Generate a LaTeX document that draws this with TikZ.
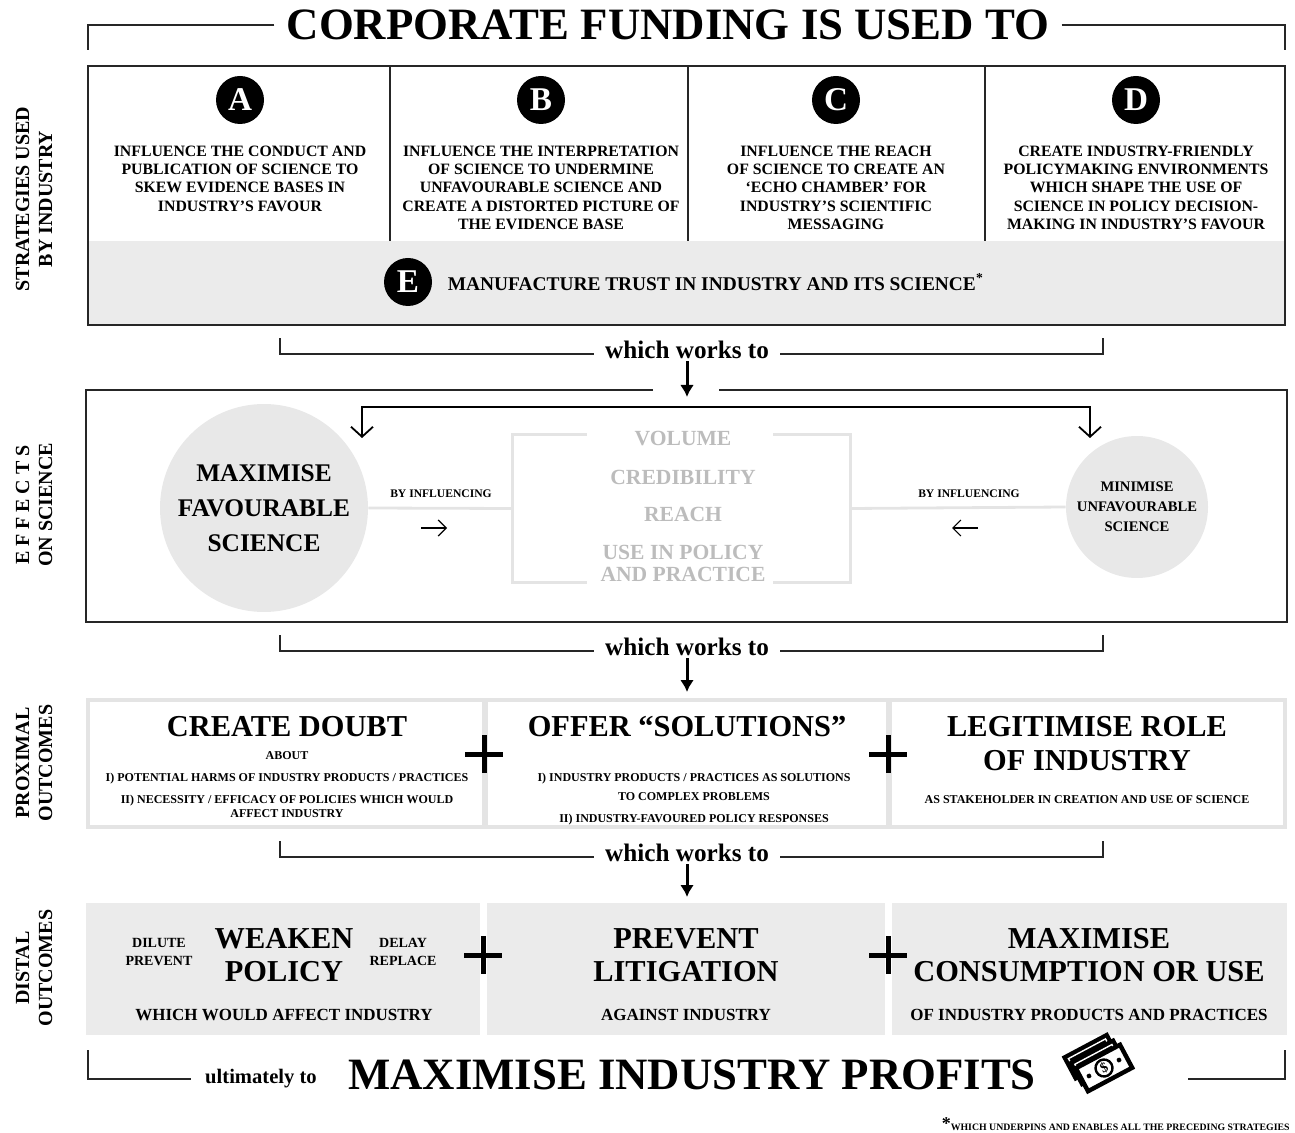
\documentclass[tikz,border=0pt]{standalone}
\usepackage{fontspec}
\setmainfont{Liberation Serif}
\usepackage{tikz}
\usetikzlibrary{positioning,arrows.meta}

\definecolor{panel}{HTML}{EBEBEB}
\definecolor{blob}{HTML}{E8E8E8}
\definecolor{faint}{HTML}{E4E4E4}
\definecolor{ghost}{HTML}{BCBCBC}
\newcommand{\bsz}[2]{\fontsize{#1}{#2}\selectfont\bfseries}

\tikzset{
  frame/.style={draw=black!85,line width=1.2pt},
  bracket/.style={draw=black!85,line width=1pt},
  down/.style={-{Latex[length=6pt,width=7pt]},line width=1.5pt},
  barb/.style={-{Straight Barb[length=5pt,width=11pt]},line width=0.9pt},
  thinarrow/.style={-{Straight Barb[length=4pt,width=8pt]},line width=0.6pt},
  faintline/.style={draw=faint,line width=1.4pt},
  letter/.style={circle,fill=black,text=white,minimum size=24pt,inner sep=0pt,font=\bsz{16.6}{17}},
  strat/.style={align=center,inner sep=0pt,font=\bsz{7.9}{9.15}},
  side/.style={rotate=90,align=center,inner sep=0pt,font=\bsz{10}{11.5}},
  works/.style={inner xsep=5.5pt,inner ysep=1pt,font=\bsz{12.6}{14}},
  head/.style={align=center,inner sep=0pt,font=\bsz{15.2}{17}},
  small/.style={align=center,inner sep=0pt,font=\bsz{6}{7}},
  minor/.style={align=center,inner sep=0pt,font=\bsz{7}{9}},
  sub/.style={inner sep=0pt,font=\bsz{8.5}{10}},
  ghosttext/.style={text=ghost,inner sep=0pt,font=\bsz{10.8}{11.2}},
  infl/.style={inner sep=0pt,font=\bsz{5.8}{7}},
  whitebox/.style={fill=white,minimum height=61.5pt,inner sep=0pt},
  greybox/.style={fill=panel,minimum height=66pt,inner sep=0pt},
  plus/.style={line width=2.5pt}
}

\begin{document}
\begin{tikzpicture}[x=0.5pt,y=-0.5pt]
\useasboundingbox (0,0) rectangle (1295,1133);

% heading
\node[inner xsep=6pt,inner ysep=0pt,font=\bsz{22.4}{24}] (title) at (668,25) {CORPORATE FUNDING IS USED TO};
\coordinate (titleL) at (88,50);
\coordinate (titleR) at (1285,50);
\draw[bracket] (title.west) -| (titleL);
\draw[bracket] (title.east) -| (titleR);

% side labels
\foreach \name/\cy/\txt in {strat/199/{STRATEGIES USED\\BY INDUSTRY},
    eff/505/{{\addfontfeature{LetterSpace=24}EFFECTS}\\ON SCIENCE},
    prox/763/{PROXIMAL\\OUTCOMES},
    dist/968/{DISTAL\\OUTCOMES}}
  \node[side] (lab\name) at (34,\cy) {\txt};

% strategies
\fill[panel] (88,241) rectangle (1285,325);
\foreach \x in {390,688,985}
  \draw[black!85,line width=1pt] (\x,66) -- (\x,241);
\draw[frame] (88,66) rectangle (1285,325);
\foreach \name/\cx/\txt in {
    A/240/{INFLUENCE THE CONDUCT AND\\PUBLICATION OF SCIENCE TO\\SKEW EVIDENCE BASES IN\\INDUSTRY’S FAVOUR},
    B/541/{INFLUENCE THE INTERPRETATION\\OF SCIENCE TO UNDERMINE\\UNFAVOURABLE SCIENCE AND\\CREATE A DISTORTED PICTURE OF\\THE EVIDENCE BASE},
    C/836/{INFLUENCE THE REACH\\OF SCIENCE TO CREATE AN\\‘ECHO CHAMBER’ FOR\\INDUSTRY’S SCIENTIFIC\\MESSAGING},
    D/1136/{CREATE INDUSTRY-FRIENDLY\\POLICYMAKING ENVIRONMENTS\\WHICH SHAPE THE USE OF\\SCIENCE IN POLICY DECISION-\\MAKING IN INDUSTRY’S FAVOUR}}
{
  \node[letter] (s\name) at (\cx,100) {\name};
  \node[strat,below=10.5pt of s\name] (t\name) {\txt};
}
\node[letter] (sE) at (408,282) {E};
\node[inner sep=0pt,font=\bsz{9.7}{11},right=7.5pt of sE] (tE) {MANUFACTURE TRUST IN INDUSTRY AND ITS SCIENCE\textsuperscript{*}};

% which works to
\foreach \n/\y/\tip in {1/354/397,2/651/692,3/857/897}
{
  \node[works,anchor=mid] (work\n) at (687,\y) {which works to};
  \coordinate (workL\n) at (280,\y-16);
  \coordinate (workR\n) at (1103,\y-16);
  \coordinate (tip\n) at (687,\tip);
  \draw[bracket] (work\n.mid west) -| (workL\n);
  \draw[bracket] (work\n.mid east) -| (workR\n);
  \draw[down] (work\n.south) -- (tip\n);
}

% effects on science
\draw[black!85,line width=1.1pt] (653,390) -| (86,622) -| (1287,390) -- (719,390);
\coordinate (fork) at (687,407);
\coordinate (forkL) at (362,438);
\coordinate (forkR) at (1090,438);
\draw[barb] (fork) -| (forkL);
\draw[barb] (fork) -| (forkR);

\node[circle,fill=blob,minimum size=104pt,inner sep=0pt,align=center,font=\bsz{12.7}{17.5}] (maxfav) at (264,508) {MAXIMISE\\FAVOURABLE\\SCIENCE};
\node[circle,fill=blob,minimum size=71pt,inner sep=0pt,align=center,font=\bsz{7.3}{10}] (minunfav) at (1137,507) {MINIMISE\\UNFAVOURABLE\\SCIENCE};
\node[minimum width=168.5pt,minimum height=73.5pt,inner sep=0pt] (props) at (681.5,508.5) {};
\draw[faintline] ([xshift=37pt]props.north west) -| (props.south west) -- ([xshift=37pt]props.south west);
\draw[faintline] ([xshift=-38.5pt]props.north east) -| (props.south east) -- ([xshift=-38.5pt]props.south east);
\draw[faintline] (maxfav.east) -- (props.west);
\draw[faintline] (props.east) -- (minunfav.west);
\foreach \word/\y [count=\i] in {VOLUME/439,CREDIBILITY/477,REACH/514,USE IN POLICY/552,AND PRACTICE/574}
  \node[ghosttext] (g\i) at (683,\y) {\word};

\node[infl] (inflL) at (441,494) {BY INFLUENCING};
\node[infl] (inflR) at (969,494) {BY INFLUENCING};
\coordinate (pushL) at (421,528);
\coordinate (pushR) at (978,528);
\draw[thinarrow] (pushL) -- ++(26,0);
\draw[thinarrow] (pushR) -- ++(-26,0);

% proximal outcomes
\fill[faint] (86,698) rectangle (1287,829);
\node[whitebox,minimum width=196pt] (prox1) at (286,763.5) {};
\node[whitebox,minimum width=199pt] (prox2) at (687,763.5) {};
\node[whitebox,minimum width=195.5pt] (prox3) at (1087.5,763.5) {};

\node[head] (doubt) at (287,727) {CREATE DOUBT};
\node[small,below=7pt of doubt] (doubtsub) {ABOUT\\[4pt]I) POTENTIAL HARMS OF INDUSTRY PRODUCTS / PRACTICES\\[4pt]II) NECESSITY / EFFICACY OF POLICIES WHICH WOULD\\AFFECT INDUSTRY};
\node[head] (offer) at (687,727) {OFFER “SOLUTIONS”};
\node[small,below=17.5pt of offer,xshift=3.5pt] (offersub) {I) INDUSTRY PRODUCTS / PRACTICES AS SOLUTIONS\\[2.5pt]TO COMPLEX PROBLEMS\\[4pt]II) INDUSTRY-FAVOURED POLICY RESPONSES};
\node[head] (legit) at (1087,744) {LEGITIMISE ROLE\\OF INDUSTRY};
\node[small,below=12pt of legit] (legitsub) {AS STAKEHOLDER IN CREATION AND USE OF SCIENCE};

% distal outcomes
\node[greybox,minimum width=197pt] (dist1) at (283,969) {};
\node[greybox,minimum width=199pt] (dist2) at (686,969) {};
\node[greybox,minimum width=197.5pt] (dist3) at (1089.5,969) {};

\node[head,font=\bsz{15.2}{16.5}] (weaken) at (284,955.5) {WEAKEN\\POLICY};
\node[minor] (dilute) at (159,952) {DILUTE\\PREVENT};
\node[minor] (delay) at (403,952) {DELAY\\REPLACE};
\node[sub,below=13pt of weaken] (affect) {WHICH WOULD AFFECT INDUSTRY};
\node[head,font=\bsz{15.2}{16.5}] (litig) at (686,955.5) {PREVENT\\LITIGATION};
\node[sub,below=13pt of litig] (against) {AGAINST INDUSTRY};
\node[head,font=\bsz{15.2}{16.5}] (consume) at (1089,955.5) {MAXIMISE\\CONSUMPTION OR USE};
\node[sub,below=13pt of consume] (ofprod) {OF INDUSTRY PRODUCTS AND PRACTICES};

\foreach \px/\py in {484/754,888/754,483/955,888/955}
  \draw[plus] (\px-19,\py) -- (\px+19,\py) (\px,\py-19) -- (\px,\py+19);

% bottom line
\node[inner xsep=7pt,inner ysep=1pt,anchor=mid,font=\bsz{10.3}{12}] (ult) at (261,1079) {ultimately to};
\node[inner sep=0pt,font=\bsz{22.4}{24}] (profit) at (692,1075) {MAXIMISE INDUSTRY PROFITS};
\coordinate (endL) at (88,1050);
\coordinate (endR) at (1285,1050);
\coordinate (cashR) at (1188,1079);
\draw[bracket] (ult.mid west) -| (endL);
\draw[bracket] (cashR) -| (endR);

\begin{scope}[shift={(1104,1068)},rotate=28]
  \foreach \k in {2,1}{
    \begin{scope}[shift={(-3*\k,-8*\k)}]
      \filldraw[fill=black,draw=black,line width=1pt] (-25,-13) rectangle (25,13);
      \draw[white,line width=0.7pt] (-21,-9) rectangle (21,9);
    \end{scope}
  }
  \filldraw[fill=white,draw=black,line width=2.2pt] (-25,-13) rectangle (25,13);
  \node[circle,draw=black,line width=1.2pt,fill=white,inner sep=0pt,minimum size=8.5pt,font=\bsz{7}{7},rotate=28] (cash) at (0,0) {\$};
  \fill (-17,0) circle (1.2pt);
  \fill (17,0) circle (1.2pt);
\end{scope}

\node[anchor=east,inner sep=0pt,font=\bsz{4.9}{6}] (note) at (1290,1124) {\raisebox{0.5pt}{\fontsize{9}{9}\selectfont*}WHICH UNDERPINS AND ENABLES ALL THE PRECEDING STRATEGIES};
\end{tikzpicture}
\end{document}
